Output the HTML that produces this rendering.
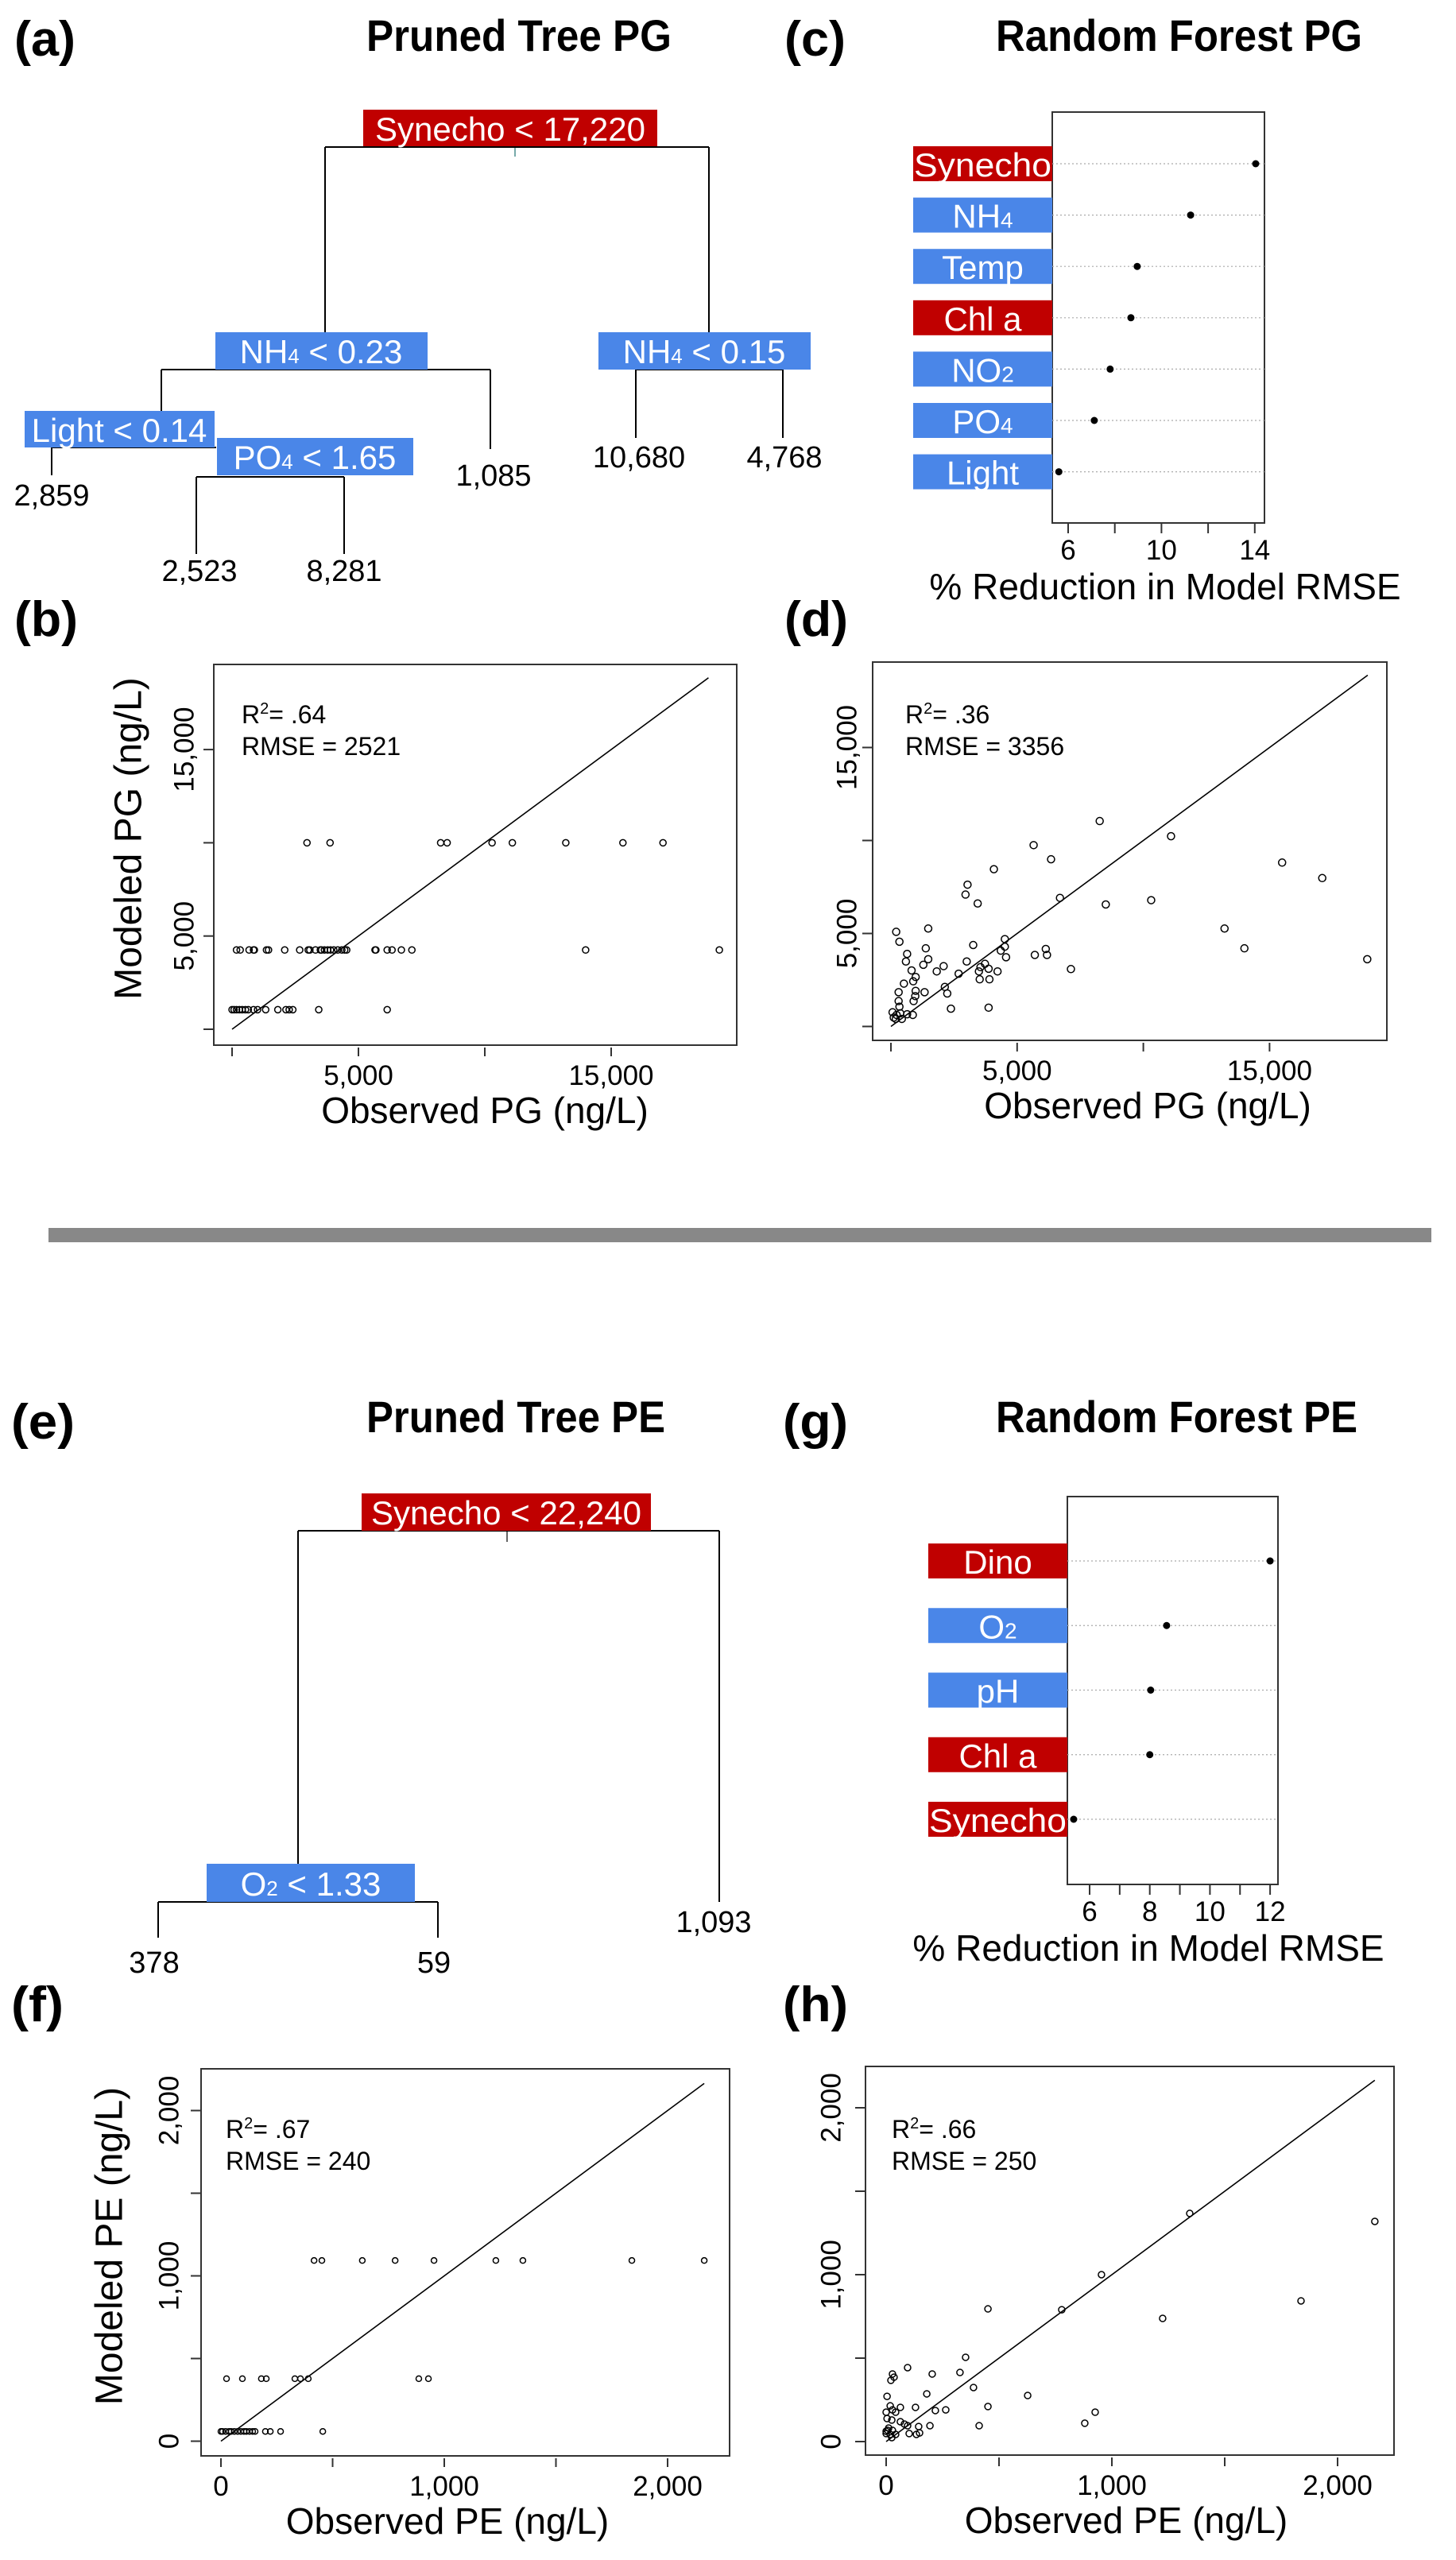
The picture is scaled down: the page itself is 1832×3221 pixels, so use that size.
<!DOCTYPE html>
<html><head><meta charset="utf-8">
<style>
html,body{margin:0;padding:0;background:#fff;}
svg{display:block;font-family:"Liberation Sans",Arial,sans-serif;}
.lbl{fill:#fff;font-size:42px;}
.leaf{font-size:38px;fill:#000;text-anchor:middle;}
.ttl{font-size:56px;font-weight:bold;}
.pl{font-size:62px;font-weight:bold;}
.tick{font-size:35px;}
.axt{font-size:46px;}
</style></head>
<body>
<svg id="fig" width="1832" height="3221" viewBox="0 0 1832 3221" xmlns="http://www.w3.org/2000/svg">
<rect width="1832" height="3221" fill="#fff"/>
<text class="pl" x="18" y="70" textLength="77" lengthAdjust="spacingAndGlyphs">(a)</text>
<text class="ttl" x="461" y="64" textLength="384" lengthAdjust="spacingAndGlyphs">Pruned Tree PG</text>
<text class="pl" x="987" y="70" textLength="77" lengthAdjust="spacingAndGlyphs">(c)</text>
<text class="ttl" x="1253" y="64" textLength="461" lengthAdjust="spacingAndGlyphs">Random Forest PG</text>
<text class="pl" x="18" y="800" textLength="80" lengthAdjust="spacingAndGlyphs">(b)</text>
<text class="pl" x="987" y="800" textLength="80" lengthAdjust="spacingAndGlyphs">(d)</text>

<rect x="61" y="1545" width="1740" height="18" fill="#888"/>

<text class="pl" x="14" y="1810" textLength="80" lengthAdjust="spacingAndGlyphs">(e)</text>
<text class="ttl" x="461" y="1802" textLength="376" lengthAdjust="spacingAndGlyphs">Pruned Tree PE</text>
<text class="pl" x="985" y="1810" textLength="82" lengthAdjust="spacingAndGlyphs">(g)</text>
<text class="ttl" x="1253" y="1802" textLength="455" lengthAdjust="spacingAndGlyphs">Random Forest PE</text>
<text class="pl" x="14" y="2543" textLength="66" lengthAdjust="spacingAndGlyphs">(f)</text>
<text class="pl" x="985" y="2543" textLength="82" lengthAdjust="spacingAndGlyphs">(h)</text>

<g stroke="#000" stroke-width="2" fill="none">
<line x1="648" y1="184" x2="648" y2="197" stroke="#7aa"/>
<line x1="409" y1="185" x2="892" y2="185"/>
<line x1="409" y1="185" x2="409" y2="418"/>
<line x1="892" y1="185" x2="892" y2="418"/>
<line x1="203" y1="465" x2="617" y2="465"/>
<line x1="203" y1="465" x2="203" y2="517"/>
<line x1="617" y1="465" x2="617" y2="565"/>
<line x1="65" y1="563" x2="272" y2="563"/>
<line x1="65" y1="563" x2="65" y2="598"/>
<line x1="247" y1="600" x2="433" y2="600"/>
<line x1="247" y1="600" x2="247" y2="697"/>
<line x1="433" y1="600" x2="433" y2="697"/>
<line x1="800" y1="465" x2="985" y2="465"/>
<line x1="800" y1="465" x2="800" y2="551"/>
<line x1="985" y1="465" x2="985" y2="551"/>
</g>
<rect x="457" y="138" width="370" height="46" fill="#c00000"/>
<text class="lbl" x="642" y="177" text-anchor="middle" font-size="46" textLength="340" lengthAdjust="spacingAndGlyphs">Synecho &lt; 17,220</text>
<rect x="271" y="418" width="267" height="47" fill="#4a86e8"/>
<text class="lbl" x="404" y="457" text-anchor="middle">NH<tspan font-size="26">4</tspan> &lt; 0.23</text>
<rect x="753" y="418" width="267" height="47" fill="#4a86e8"/>
<text class="lbl" x="886" y="457" text-anchor="middle">NH<tspan font-size="26">4</tspan> &lt; 0.15</text>
<rect x="31" y="517" width="239" height="46" fill="#4a86e8"/>
<text class="lbl" x="150" y="556" text-anchor="middle">Light &lt; 0.14</text>
<rect x="273" y="551" width="247" height="47" fill="#4a86e8"/>
<text class="lbl" x="396" y="590" text-anchor="middle">PO<tspan font-size="26">4</tspan> &lt; 1.65</text>
<text class="leaf" x="65" y="636">2,859</text>
<text class="leaf" x="621" y="611">1,085</text>
<text class="leaf" x="804" y="588">10,680</text>
<text class="leaf" x="987" y="588">4,768</text>
<text class="leaf" x="251" y="731">2,523</text>
<text class="leaf" x="433" y="731">8,281</text>

<g stroke="#000" stroke-width="2" fill="none">
<line x1="638" y1="1926" x2="638" y2="1940" stroke="#666"/>
<line x1="375" y1="1926" x2="905" y2="1926"/>
<line x1="375" y1="1926" x2="375" y2="2345"/>
<line x1="905" y1="1926" x2="905" y2="2393"/>
<line x1="199" y1="2393" x2="551" y2="2393"/>
<line x1="199" y1="2393" x2="199" y2="2438"/>
<line x1="551" y1="2393" x2="551" y2="2438"/>
</g>
<rect x="455" y="1879" width="364" height="47" fill="#c00000"/>
<text class="lbl" x="637" y="1918" text-anchor="middle" font-size="46" textLength="340" lengthAdjust="spacingAndGlyphs">Synecho &lt; 22,240</text>
<rect x="260" y="2345" width="262" height="48" fill="#4a86e8"/>
<text class="lbl" x="391" y="2385" text-anchor="middle">O<tspan font-size="26">2</tspan> &lt; 1.33</text>
<text class="leaf" x="194" y="2482">378</text>
<text class="leaf" x="546" y="2482">59</text>
<text class="leaf" x="898" y="2431">1,093</text>

<g id="dyn"></g>
</svg>
<script>
const rfPgVars = ["Synecho","NH4","Temp","Chl a","NO2","PO4","Light"];
const rfPgVals = [14.04, 11.25, 8.96, 8.69, 7.8, 7.12, 5.6];
const rfPgColors = ["red","blue","blue","red","blue","blue","blue"];
const rfPgTicks = [6,8,10,12,14];
const rfPgTickLabels = ["6","","10","","14"];

const rfPeVars = ["Dino","O2","pH","Chl a","Synecho"];
const rfPeVals = [12.0, 8.56, 8.03, 8.0, 5.47];
const rfPeColors = ["red","blue","blue","red","red"];
const rfPeTicks = [6,7,8,9,10,11,12];
const rfPeTickLabels = ["6","","8","","10","","12"];

const bObs = [2965,3878,8253,8510,10288,11090,13205,15465,17051,
 176,321,673,849,881,1362,1442,2083,2676,3013,3077,3301,3494,3542,3654,3782,3894,4022,4183,4343,4455,4535,5657,5689,6138,6330,6699,7115,13990,19280,
 0,80,176,288,401,529,641,849,1010,1330,1811,2131,2260,2404,3430,6138];
const bMod = [10000,10000,10000,10000,10000,10000,10000,10000,10000,
 4250,4250,4250,4250,4250,4250,4250,4250,4250,4250,4250,4250,4250,4250,4250,4250,4250,4250,4250,4250,4250,4250,4250,4250,4250,4250,4250,4250,4250,4250,
 1050,1050,1050,1050,1050,1050,1050,1050,1050,1050,1050,1050,1050,1050,1050,1050];

const dObs = [8271,11097,5653,6344,15498,4079,17088,3035,2955,6697,3437,8512,10311,209,1478,13217,337,3260,4513,1381,4513,4352,6135,14004,642,5701,6183,4561,1478,18871,594,3003,2088,1285,3726,3549,819,1815,3485,3870,4224,7131,2682,980,883,514,3517,3903,2136,305,980,1333,2232,964,305,899,337,2377,3870,64,225,369,642,867,112,193,433];
const dMod = [11045,10230,9751,8989,8812,8457,7979,7624,7092,6915,6613,6560,6791,5089,5266,5266,4557,4379,4698,4202,4291,4078,4167,4202,3901,3847,3847,3723,3617,3617,3493,3493,3245,3316,3369,3191,3014,2961,2961,3103,2961,3085,2837,2660,2429,2305,2535,2535,2128,1844,1915,1844,1773,1631,1365,1365,1064,957,1011,762,621,709,656,621,479,408,408];

const fObs = [417,452,633,780,954,1231,1352,1840,2164,
 25,96,181,203,331,356,391,886,929,
 0,7,21,36,46,60,75,89,103,114,128,142,153,199,221,267,456];
const fMod = [1093,1093,1093,1093,1093,1093,1093,1093,1093,
 378,378,378,378,378,378,378,378,378,
 59,59,59,59,59,59,59,59,59,59,59,59,59,59,59,59,59];

const hObs = [1345,2165,954,1838,1225,778,451,352,95,204,327,28,35,21,387,180,627,4,451,18,63,130,264,218,28,42,0,926,4,25,63,880,194,412,144,81,95,11,28,0,18,42,102,134,148,7,0,25];
const hMod = [1367,1319,1000,843,738,790,795,505,443,405,414,405,386,367,324,286,276,271,210,214,205,205,190,186,190,176,176,176,138,129,119,110,95,95,90,105,95,81,67,48,43,43,48,43,52,67,62,24];

const bXTicks=[0,5000,10000,15000], bXLabels=["","5,000","","15,000"];
const bYTicks=[0,5000,10000,15000], bYLabels=["","5,000","","15,000"];
const fXTicks=[0,500,1000,1500,2000], fXLabels=["0","","1,000","","2,000"];
const fYTicks=[0,500,1000,1500,2000], fYLabels=["0","","1,000","","2,000"];

const NS="http://www.w3.org/2000/svg";
const dyn=document.getElementById('dyn');
function mk(tag, attrs, parent){
  const e=document.createElementNS(NS,tag);
  for(const k in attrs) e.setAttribute(k, attrs[k]);
  (parent||dyn).appendChild(e); return e;
}

function scatter(c, obs, mod, xt, xl, yt, yl, name){
  const g=mk('g',{});
  
  
  const X=v=>c.x0+v*c.kx, Y=v=>c.y0-v*c.ky;
  const box=mk('rect',{x:c.L,y:c.T,width:c.R-c.L,height:c.B-c.T,fill:'none',stroke:'#333','stroke-width':2},g);
  
  
  xt.forEach((v,i)=>{
    const t=mk('line',{x1:X(v),x2:X(v),y1:c.B+3,y2:c.B+14,stroke:'#333','stroke-width':2},g);
    
    
    if(xl[i]){
      const tx=mk('text',{x:X(v),y:c.B+50,'text-anchor':'middle','class':'tick'},g);
      tx.textContent=xl[i];
      
      
    }
  });
  yt.forEach((v,i)=>{
    const t=mk('line',{x1:c.L-13,x2:c.L,y1:Y(v),y2:Y(v),stroke:'#333','stroke-width':2},g);
    
    
    if(yl[i]){
      const tx=mk('text',{x:0,y:0,'text-anchor':'middle','class':'tick',transform:`translate(${c.ylx},${Y(v)}) rotate(-90)`,'dominant-baseline':'central'},g);
      tx.textContent=yl[i];
      
      
    }
  });
  const ln=mk('line',{x1:X(0),y1:Y(0),x2:X(c.lineMax),y2:Y(c.lineMax),stroke:'#000','stroke-width':1.6},g);
  
  
  obs.forEach((o,i)=>{
    const p=mk('circle',{cx:X(o),cy:Y(mod[i]),r:c.r,fill:'none',stroke:'#000','stroke-width':1.5},g);
    
    
  });
  const s1=mk('text',{x:c.tx,y:c.ty,'font-size':32},g);
  s1.innerHTML='R<tspan font-size="20" dy="-12">2</tspan><tspan dy="12">= '+c.r2+'</tspan>';
  
  
  const s2=mk('text',{x:c.tx,y:c.ty+40,'font-size':32},g);
  s2.textContent='RMSE  = '+c.rmse;
  
  
  const xa=mk('text',{x:c.xtx,y:c.B+98,'text-anchor':'middle','class':'axt'},g);
  xa.textContent=c.xtitle;
  
  
  if(c.ytitle){
    const ya=mk('text',{x:0,y:0,'text-anchor':'middle','font-size':48,'dominant-baseline':'central',transform:`translate(${c.ytx},${c.yty}) rotate(-90)`},g);
    ya.textContent=c.ytitle;
    
    
  }
}

scatter({L:269,R:927,T:836,B:1315,x0:292,kx:159/5000,y0:1295,ky:117.3/5000,ylx:232,r:4,lineMax:18850,
  tx:304,ty:910,r2:'.64',rmse:2521,xtitle:'Observed PG (ng/L)',xtx:610,ytitle:'Modeled PG (ng/L)',ytx:162,yty:1055},
  bObs,bMod,bXTicks,bXLabels,bYTicks,bYLabels,'scatter-pruned-tree-pg');
scatter({L:1098,R:1745,T:833,B:1309,x0:1121,kx:158.8/5000,y0:1291.5,ky:117/5000,ylx:1066,r:4.5,lineMax:18890,
  tx:1139,ty:910,r2:'.36',rmse:3356,xtitle:'Observed PG (ng/L)',xtx:1444},
  dObs,dMod,bXTicks,bXLabels,bYTicks,bYLabels,'scatter-random-forest-pg');
scatter({L:253,R:918,T:2603,B:3090,x0:278,kx:281/1000,y0:3071.5,ky:208/1000,ylx:213,r:3.5,lineMax:2164,
  tx:284,ty:2690,r2:'.67',rmse:240,xtitle:'Observed PE (ng/L)',xtx:563,ytitle:'Modeled PE (ng/L)',ytx:138,yty:2826},
  fObs,fMod,fXTicks,fXLabels,fYTicks,fYLabels,'scatter-pruned-tree-pe');
scatter({L:1089,R:1754,T:2600,B:3089,x0:1115,kx:284/1000,y0:3072,ky:210/1000,ylx:1046,r:4,lineMax:2165,
  tx:1122,ty:2690,r2:'.66',rmse:250,xtitle:'Observed PE (ng/L)',xtx:1417},
  hObs,hMod,fXTicks,fXLabels,fYTicks,fYLabels,'scatter-random-forest-pe');

function dotplot(c, vars, vals, cols, ticks, tlabels, name){
  const g=mk('g',{});
  
  
  const X=v=>c.x0+(v-6)*c.k;
  const box=mk('rect',{x:c.L,y:c.T,width:c.R-c.L,height:c.B-c.T,fill:'none',stroke:'#333','stroke-width':2},g);
  
  
  vars.forEach((v,i)=>{
    const cy=c.y0+i*c.dy;
    const gl=mk('line',{x1:c.L,x2:c.R,y1:cy,y2:cy,stroke:'#aaa','stroke-width':1.2,'stroke-dasharray':'2,3'},g);
    
    
    const r=mk('rect',{x:c.lx,y:cy-22,width:c.L-c.lx,height:44,fill:cols[i]==='red'?'#c00000':'#4a86e8'},g);
    
    
    const t=mk('text',{x:(c.lx+c.L)/2,y:cy+16,'text-anchor':'middle','class':'lbl','font-size':46},g);
    const m=v.match(/^(NH|NO|PO|O)(\d)$/);
    if(m){ t.innerHTML=m[1]+'<tspan font-size="28">'+m[2]+'</tspan>'; }
    else { t.textContent=v; if(v==='Synecho'){ t.setAttribute('textLength', c.L-c.lx-2); t.setAttribute('lengthAdjust','spacingAndGlyphs'); } }
    
    
    const d=mk('circle',{cx:X(vals[i]),cy:cy,r:4.5,fill:'#000'},g);
    
    
  });
  ticks.forEach((v,i)=>{
    const tl=mk('line',{x1:X(v),x2:X(v),y1:c.B,y2:c.B+13,stroke:'#333','stroke-width':2},g);
    
    
    if(tlabels[i]){
      const tx=mk('text',{x:X(v),y:c.B+46,'text-anchor':'middle','class':'tick'},g);
      tx.textContent=tlabels[i];
      
      
    }
  });
  const at=mk('text',{x:c.atx,y:c.B+96,'text-anchor':'middle','class':'axt'},g);
  at.textContent='% Reduction in Model RMSE';
  
  
}
dotplot({L:1324,R:1591,T:141,B:658,lx:1149,x0:1344,k:29.35,y0:206,dy:64.6,atx:1466},
  rfPgVars,rfPgVals,rfPgColors,rfPgTicks,rfPgTickLabels,'random-forest-pg-importance');
dotplot({L:1343,R:1608,T:1883,B:2371,lx:1168,x0:1371,k:37.85,y0:1964,dy:81.25,atx:1445},
  rfPeVars,rfPeVals,rfPeColors,rfPeTicks,rfPeTickLabels,'random-forest-pe-importance');
</script>
</body></html>
